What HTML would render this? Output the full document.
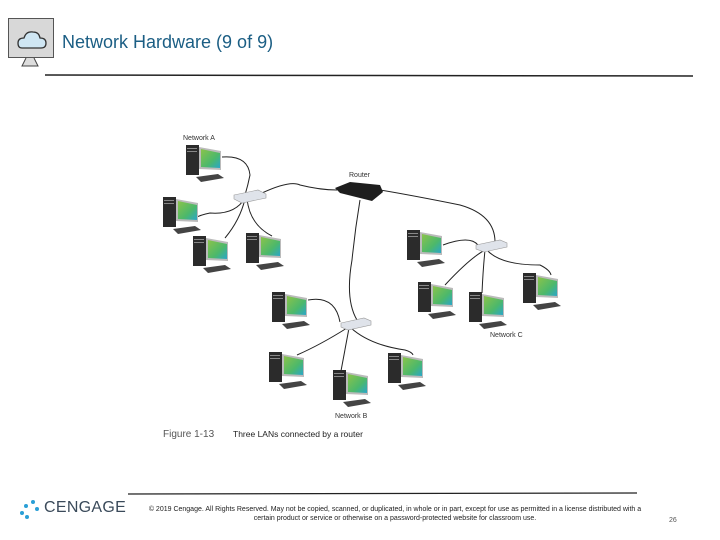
<!DOCTYPE html>
<html><head><style>
body{margin:0;width:720px;height:540px;background:#fff;overflow:hidden;font-family:"Liberation Sans",sans-serif;position:relative}
.abs{position:absolute}
</style></head><body>
<div class="abs" style="left:8px;top:18px;width:46px;height:40px;background:#d8d8d8;border:1.5px solid #555;box-sizing:border-box"></div>
<svg class="abs" style="left:0;top:0" width="720" height="540">
<path d="M22 48 Q18 48 18 43 Q18 38 24 38 Q26 31 33 32 Q39 32 40 38 Q46 38 46 43 Q46 48 41 48Z" fill="#cfe6f3" stroke="#333" stroke-width="1.3"/>
<path d="M26 58 L22 66 L38 66 L34 58" fill="#ddd" stroke="#444"/>
<line x1="45" y1="75" x2="693" y2="76" stroke="#222" stroke-width="1.5"/>
<line x1="128" y1="494" x2="637" y2="493" stroke="#222" stroke-width="1.2"/>
<defs>
<linearGradient id="g" x1="0" y1="0" x2="1" y2="1"><stop offset="0" stop-color="#8bc34a"/><stop offset="0.6" stop-color="#4cb86b"/><stop offset="1" stop-color="#2aa6c9"/></linearGradient>
<g id="pc">
<rect x="0" y="0" width="13" height="30" fill="#2b2b2b"/>
<rect x="1" y="3" width="10" height="1" fill="#888"/><rect x="1" y="6" width="10" height="1" fill="#888"/>
<path d="M13 2 L35 6 L35 25 L13 24Z" fill="#bbb"/>
<path d="M15 4 L34 8 L34 23 L15 22Z" fill="url(#g)"/>
<path d="M10 32 L32 29 L38 33 L15 37Z" fill="#444"/>
</g>
</defs>
<g fill="none" stroke="#222" stroke-width="1">
<path d="M222 157 Q248 155 250 175 Q248 185 245 195"/>
<path d="M245 198 Q235 215 210 213 Q200 215 195 218"/>
<path d="M245 199 Q240 220 225 238"/>
<path d="M247 199 Q250 225 272 236"/>
<path d="M262 193 Q290 180 300 185 Q320 190 337 190"/>
<path d="M380 190 Q410 195 460 205 Q495 215 495 242"/>
<path d="M360 200 Q355 230 352 260 Q345 300 357 320"/>
<path d="M443 245 Q470 235 478 245"/>
<path d="M485 250 Q470 258 445 285"/>
<path d="M485 250 Q483 270 482 293"/>
<path d="M487 250 Q500 265 540 265 Q550 270 551 275"/>
<path d="M308 300 Q335 295 340 322"/>
<path d="M347 328 Q320 345 297 355"/>
<path d="M349 328 Q345 350 341 371"/>
<path d="M351 328 Q370 345 405 350 Q412 352 413 355"/>
</g>
<use href="#pc" x="186" y="145"/><use href="#pc" x="163" y="197"/><use href="#pc" x="193" y="236"/><use href="#pc" x="246" y="233"/>
<use href="#pc" x="407" y="230"/><use href="#pc" x="418" y="282"/><use href="#pc" x="469" y="292"/><use href="#pc" x="523" y="273"/>
<use href="#pc" x="272" y="292"/><use href="#pc" x="269" y="352"/><use href="#pc" x="333" y="370"/><use href="#pc" x="388" y="353"/>
<path d="M234 195 L258 190 L266 194 L266 198 L242 203 L234 199Z" fill="#dfe3ea" stroke="#999" stroke-width=".6"/>
<path d="M476 245 L500 240 L507 243 L507 247 L484 252 L476 249Z" fill="#dfe3ea" stroke="#999" stroke-width=".6"/>
<path d="M341 323 L364 318 L371 321 L371 325 L348 330 L341 327Z" fill="#dfe3ea" stroke="#999" stroke-width=".6"/>
<path d="M335 188 L350 182 L380 185 L383 192 L372 201 L340 193Z" fill="#1e1e1e"/>
<g font-size="7" fill="#333">
<text x="183" y="140">Network A</text><text x="349" y="177">Router</text>
<text x="490" y="337">Network C</text><text x="335" y="418">Network B</text>
</g>
<text x="163" y="437" font-size="10" fill="#555">Figure 1-13</text>
<text x="233" y="437" font-size="8.5" fill="#222">Three LANs connected by a router</text>
<g fill="#2a9fd6"><circle cx="26" cy="506" r="2"/><circle cx="33" cy="502" r="2"/><circle cx="22" cy="513" r="2"/><circle cx="37" cy="509" r="2"/><circle cx="27" cy="517" r="2"/></g>
</svg>
<div class="abs" style="left:62px;top:32px;font-size:18px;color:#1b5e84">Network Hardware (9 of 9)</div>
<div class="abs" style="left:44px;top:499px;font-size:16px;color:#3a4a5a;letter-spacing:0.3px">CENGAGE</div>
<div class="abs" style="left:140px;top:505px;width:510px;text-align:center;font-size:7px;line-height:9px;color:#222">© 2019 Cengage. All Rights Reserved. May not be copied, scanned, or duplicated, in whole or in part, except for use as permitted in a license distributed with a certain product or service or otherwise on a password-protected website for classroom use.</div>
<div class="abs" style="left:669px;top:517px;font-size:7px;color:#555">26</div>
</body></html>
